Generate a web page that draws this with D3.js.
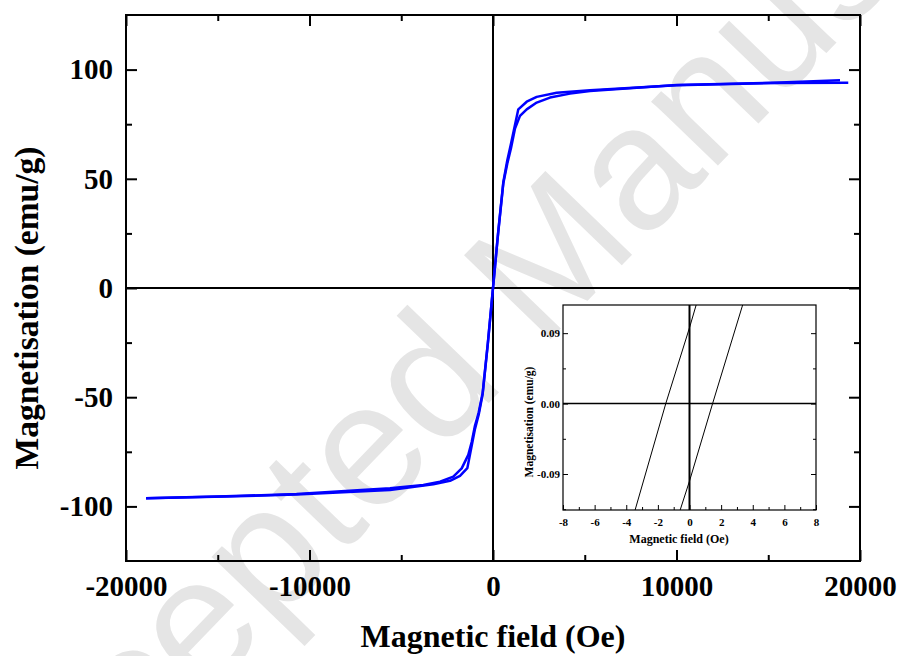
<!DOCTYPE html>
<html><head><meta charset="utf-8">
<script src="https://cdn.jsdelivr.net/npm/d3@7"></script>
<style>body{margin:0;background:#fff}svg{display:block}</style>
</head><body><svg id="c" width="901" height="656"></svg>
<script>
// ---- main loop data (Oe, emu/g) ----
const fieldDesc = [19360, 15640, 10000, 5286, 3471, 2381, 1836, 1379, 980, 780, 563, 280, 0, -280, -563, -780, -981, -1161, -1346, -1706, -2163, -2888, -3796, -5613, -10710, -14550, -18910];
const magDesc   = [94.0, 93.9, 92.8, 90.5, 89.4, 87.5, 85.3, 81.8, 66.0, 58.5, 48.5, 25.5, 0.1, -25.0, -48.0, -57.0, -63.0, -70.5, -76.4, -82.6, -86.4, -88.7, -90.2, -91.7, -94.3, -95.4, -96.3];
const fieldAsc  = [-18910, -14550, -10710, -5613, -3252, -2343, -1798, -1400, -981, -780, -563, -280, 0, 280, 563, 780, 980, 1199, 1471, 1836, 2381, 3106, 4196, 5286, 10000, 15640, 18910];
const magAsc    = [-96.3, -95.5, -94.6, -92.5, -89.9, -88.3, -86.0, -82.5, -64.5, -58.0, -48.5, -25.5, -0.1, 25.0, 48.0, 57.0, 64.0, 73.0, 78.8, 81.8, 84.9, 87.2, 89.0, 90.2, 92.9, 94.1, 95.1];

// ---- inset data (Oe, emu/g) ----
const insetFieldDesc = [-3.44, -1.50, 0, 0.42];
const insetMagDesc   = [-0.136, 0.0, 0.097, 0.126];
const insetFieldAsc  = [-0.59, 0, 1.46, 3.36];
const insetMagAsc    = [-0.136, -0.099, 0.0, 0.126];

// ---- ticks ----
const xMajor = [-20000, -10000, 0, 10000, 20000];
const xMajorLabels = ["-20000", "-10000", "0", "10000", "20000"];
const xMinor = [-15000, -5000, 5000, 15000];
const yMajor = [-100, -50, 0, 50, 100];
const yMajorLabels = ["-100", "-50", "0", "50", "100"];
const yMinor = [-75, -25, 25, 75];
const ixMajor = [-8, -6, -4, -2, 0, 2, 4, 6, 8];
const ixMajorLabels = ["-8", "-6", "-4", "-2", "0", "2", "4", "6", "8"];
const ixMinor = [-7, -5, -3, -1, 1, 3, 5, 7];
const iyMajor = [-0.09, 0, 0.09];
const iyMajorLabels = ["-0.09", "0.00", "0.09"];
const iyMinor = [-0.135, -0.045, 0.045];

const svg = d3.select('#c');
const serif = '"Liberation Serif","Times New Roman",Times,serif';

// watermark
svg.append('text').text('Accepted Manuscript')
  .attr('transform', 'translate(0,909) rotate(-46)')
  .attr('font-family', '"Liberation Sans",Arial,sans-serif')
  .attr('font-size', 175).attr('fill', '#e5e5e5');

const P = {l: 126, r: 860, t: 15, b: 561};
const x = d3.scaleLinear().domain([-20000, 20000]).range([P.l, P.r]);
const y = d3.scaleLinear().domain([-125, 125]).range([P.b, P.t]);

function styleAxis(g, fs) {
  g.select('.domain').remove();
  g.selectAll('.tick line').attr('stroke', '#000').attr('stroke-width', 2);
  g.selectAll('.tick text').attr('fill', '#000').attr('font-family', serif)
    .attr('font-weight', 'bold').attr('font-size', fs);
}

// main axes
svg.append('g').attr('transform', `translate(0,${P.b})`)
  .call(d3.axisBottom(x).tickValues(xMajor).tickSize(-11).tickPadding(14).tickFormat((d, i) => xMajorLabels[i]))
  .call(g => styleAxis(g, 29));
svg.append('g').attr('transform', `translate(0,${P.b})`)
  .call(d3.axisBottom(x).tickValues(xMinor).tickSize(-6).tickFormat(''))
  .call(g => styleAxis(g, 29));
svg.append('g').attr('transform', `translate(0,${P.t})`)
  .call(d3.axisTop(x).tickValues(xMajor).tickSize(-11).tickFormat(''))
  .call(g => styleAxis(g, 29));
svg.append('g').attr('transform', `translate(0,${P.t})`)
  .call(d3.axisTop(x).tickValues(xMinor).tickSize(-6).tickFormat(''))
  .call(g => styleAxis(g, 29));
svg.append('g').attr('transform', `translate(${P.l},0)`)
  .call(d3.axisLeft(y).tickValues(yMajor).tickSize(-11).tickPadding(13).tickFormat((d, i) => yMajorLabels[i]))
  .call(g => styleAxis(g, 29));
svg.append('g').attr('transform', `translate(${P.l},0)`)
  .call(d3.axisLeft(y).tickValues(yMinor).tickSize(-6).tickFormat(''))
  .call(g => styleAxis(g, 29));
svg.append('g').attr('transform', `translate(${P.r},0)`)
  .call(d3.axisRight(y).tickValues(yMajor).tickSize(-11).tickFormat(''))
  .call(g => styleAxis(g, 29));
svg.append('g').attr('transform', `translate(${P.r},0)`)
  .call(d3.axisRight(y).tickValues(yMinor).tickSize(-6).tickFormat(''))
  .call(g => styleAxis(g, 29));

// zero lines
svg.append('line').attr('x1', x(0)).attr('x2', x(0)).attr('y1', P.t).attr('y2', P.b)
  .attr('stroke', '#000').attr('stroke-width', 2);
svg.append('line').attr('x1', P.l).attr('x2', P.r).attr('y1', y(0)).attr('y2', y(0))
  .attr('stroke', '#000').attr('stroke-width', 2);

// frame
svg.append('rect').attr('x', P.l).attr('y', P.t).attr('width', P.r - P.l).attr('height', P.b - P.t)
  .attr('fill', 'none').attr('stroke', '#000').attr('stroke-width', 2);

// loop
const line = d3.line().x(d => x(d[0])).y(d => y(d[1]));
const desc = fieldDesc.map((h, i) => [h, magDesc[i]]);
const asc = fieldAsc.map((h, i) => [h, magAsc[i]]);
[desc, asc].forEach(dat => {
  svg.append('path').datum(dat).attr('d', line).attr('fill', 'none')
    .attr('stroke', '#0000ff').attr('stroke-width', 2.5).attr('stroke-linejoin', 'round');
});

// titles
svg.append('text').text('Magnetic field (Oe)').attr('x', x(0)).attr('y', 647)
  .attr('text-anchor', 'middle').attr('font-family', serif).attr('font-weight', 'bold').attr('font-size', 32);
svg.append('text').text('Magnetisation (emu/g)').attr('transform', 'translate(38,308) rotate(-90)')
  .attr('text-anchor', 'middle').attr('font-family', serif).attr('font-weight', 'bold').attr('font-size', 33.5);

// ---- inset ----
const I = {l: 563, r: 816, t: 305, b: 510};
const xi = d3.scaleLinear().domain([-8, 8]).range([I.l, I.r]);
const yi = d3.scaleLinear().domain([-0.136, 0.126]).range([I.b, I.t]);
const ig = svg.append('g');
ig.append('rect').attr('x', I.l).attr('y', I.t).attr('width', I.r - I.l).attr('height', I.b - I.t).attr('fill', '#fff');

function styleInset(g) {
  g.select('.domain').remove();
  g.selectAll('.tick line').attr('stroke', '#000').attr('stroke-width', 1);
  g.selectAll('.tick text').attr('fill', '#000').attr('font-family', serif)
    .attr('font-weight', 'bold').attr('font-size', 11);
}
ig.append('g').attr('transform', `translate(0,${I.b})`)
  .call(d3.axisBottom(xi).tickValues(ixMajor).tickSize(-5).tickPadding(8).tickFormat((d, i) => ixMajorLabels[i]))
  .call(styleInset);
ig.append('g').attr('transform', `translate(0,${I.b})`)
  .call(d3.axisBottom(xi).tickValues(ixMinor).tickSize(-3).tickFormat(''))
  .call(styleInset);
ig.append('g').attr('transform', `translate(${I.l},0)`)
  .call(d3.axisLeft(yi).tickValues(iyMajor).tickSize(-5).tickPadding(3).tickFormat((d, i) => iyMajorLabels[i]))
  .call(styleInset);
ig.append('g').attr('transform', `translate(${I.l},0)`)
  .call(d3.axisLeft(yi).tickValues(iyMinor).tickSize(-3).tickFormat(''))
  .call(styleInset);
ig.append('g').attr('transform', `translate(${I.r},0)`)
  .call(d3.axisRight(yi).tickValues(iyMajor).tickSize(-5).tickFormat(''))
  .call(styleInset);
ig.append('g').attr('transform', `translate(${I.r},0)`)
  .call(d3.axisRight(yi).tickValues(iyMinor).tickSize(-3).tickFormat(''))
  .call(styleInset);

svg.append('clipPath').attr('id', 'iclip').append('rect')
  .attr('x', I.l).attr('y', I.t).attr('width', I.r - I.l).attr('height', I.b - I.t);
ig.append('line').attr('x1', xi(0)).attr('x2', xi(0)).attr('y1', I.t).attr('y2', I.b)
  .attr('stroke', '#000').attr('stroke-width', 2);
ig.append('line').attr('x1', I.l).attr('x2', I.r).attr('y1', yi(0)).attr('y2', yi(0))
  .attr('stroke', '#000').attr('stroke-width', 1.5);
const iline = d3.line().x(d => xi(d[0])).y(d => yi(d[1]));
[insetFieldDesc.map((h, i) => [h, insetMagDesc[i]]), insetFieldAsc.map((h, i) => [h, insetMagAsc[i]])]
  .forEach(dat => {
    ig.append('path').datum(dat).attr('d', iline).attr('fill', 'none').attr('clip-path', 'url(#iclip)')
      .attr('stroke', '#000').attr('stroke-width', 1);
  });
ig.append('rect').attr('x', I.l).attr('y', I.t).attr('width', I.r - I.l).attr('height', I.b - I.t)
  .attr('fill', 'none').attr('stroke', '#000').attr('stroke-width', 1.2);

ig.append('text').text('Magnetic field (Oe)').attr('x', 679).attr('y', 543)
  .attr('text-anchor', 'middle').attr('font-family', serif).attr('font-weight', 'bold').attr('font-size', 12);
ig.append('text').text('Magnetisation (emu/g)').attr('transform', 'translate(533,422) rotate(-90)')
  .attr('text-anchor', 'middle').attr('font-family', serif).attr('font-weight', 'bold').attr('font-size', 11.5);
</script>
</body></html>
